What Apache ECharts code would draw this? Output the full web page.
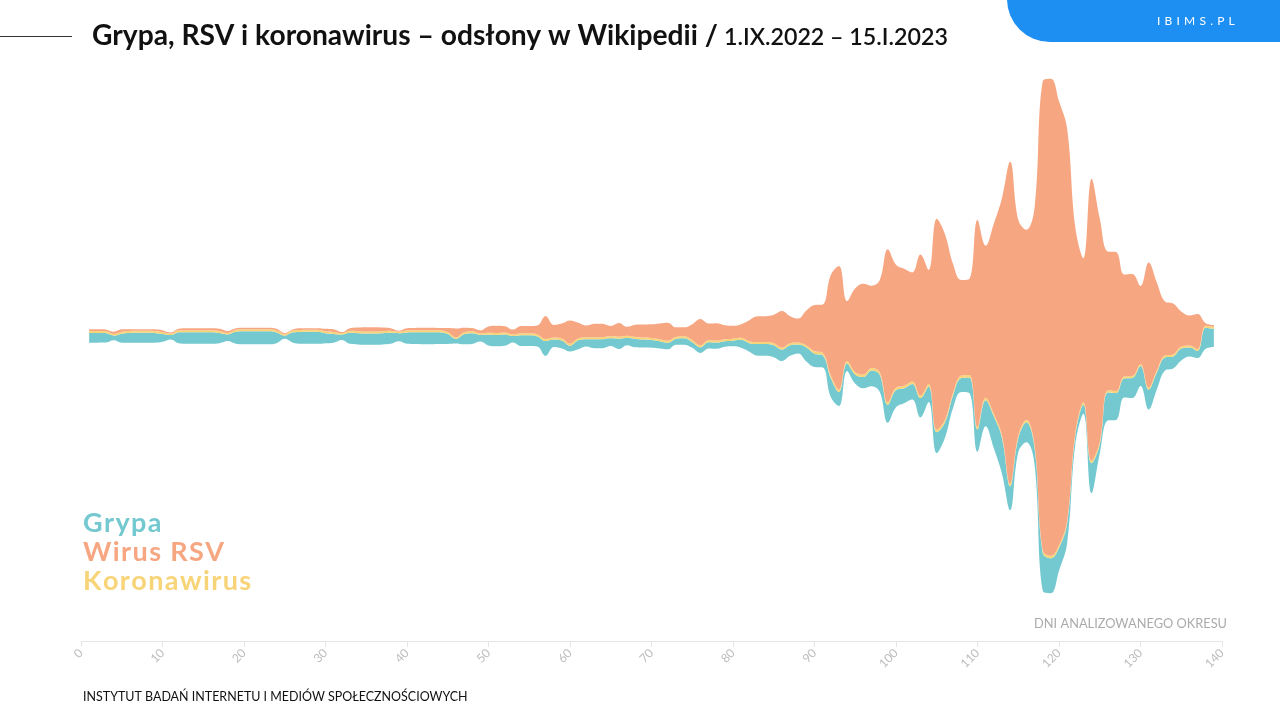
<!DOCTYPE html>
<html>
<head>
<meta charset="utf-8">
<script src="https://cdn.jsdelivr.net/npm/echarts/dist/echarts.min.js"></script>
<style>
  html, body { margin: 0; padding: 0; background: #ffffff; }
  #chart { width: 1280px; height: 720px; }
</style>
</head>
<body>
<div id="chart"></div>
<script>
// ---- Data, days 1..139 ----
const grypa = [
  9.7, 9.7, 9.5, 4.7, 9.0, 9.7, 10.0, 10.0, 9.7, 7.7,
  4.3, 11.0, 11.3, 11.3, 11.7, 11.7, 10.3, 6.7, 12.0, 13.0,
  13.0, 13.0, 13.0, 10.7, 3.2, 10.3, 11.7, 12.0, 12.0, 10.0,
  8.7, 5.3, 11.0, 11.3, 11.3, 11.3, 11.3, 11.0, 8.0, 11.3,
  11.7, 12.0, 12.0, 11.7, 10.0, 4.7, 10.0, 10.7, 6.7, 10.7,
  11.3, 11.3, 6.3, 10.7, 10.7, 10.0, 15.0, 7.5, 8.0, 5.7,
  9.0, 7.3, 9.0, 9.0, 7.7, 10.3, 7.3, 8.3, 8.0, 7.7,
  7.3, 6.7, 5.7, 6.3, 5.7, 5.7, 6.3, 6.3, 5.7, 5.7,
  8.0, 8.7, 11.7, 11.7, 12.0, 11.5, 10.7, 9.0, 14.0, 13.3,
  12.3, 19.0, 14.0, 7.3, 9.0, 11.3, 15.7, 17.0, 18.0, 17.3,
  15.0, 15.6, 19.3, 15.6, 21.0, 15.7, 12.7, 14.0, 15.7, 22.3,
  26, 32, 36, 24, 14, 20, 17, 38, 35, 23,
  20, 9, 9, 30, 9, 28, 27, 19, 20, 20,
  20, 17, 13, 12, 12, 9, 7, 21, 18
];
const koronawirus = [
  2, 2, 2, 1.5, 2, 2, 2, 2, 2, 2,
  1.5, 2, 2, 2, 2, 2, 2, 1.5, 2, 2,
  2, 2, 2, 2, 1.5, 2, 2, 2, 2, 2,
  2, 1.5, 2, 2, 2, 2, 2, 2, 1.5, 2,
  2, 2, 2, 2, 2, 1.5, 2, 2, 1.5, 2,
  2, 2, 1.5, 2, 2, 2, 2, 2, 2, 2,
  2, 2, 2, 2, 2, 2, 2, 2, 2, 2,
  2, 2, 2, 2, 2, 2, 2, 2, 2, 2,
  2, 2, 2, 2, 2, 2, 2, 2, 2, 2.5,
  2.5, 2.5, 2.5, 2.5, 2.5, 2.5, 2.5, 2.5, 2.5, 2.5,
  2.5, 2.5, 2.5, 2.5, 2.5, 2.5, 2.5, 2.5, 2.5, 2.5,
  2.5, 2.5, 2.5, 2.5, 2.5, 2.5, 2.5, 2.5, 2.5, 2.5,
  2.5, 2.5, 2.5, 2.5, 2.5, 2, 2, 2, 2, 2,
  2, 2, 2, 2, 2, 2, 2, 2, 2
];
const wirusRSV = [
  1.7, 1.7, 1.7, 2.3, 2.3, 1.7, 1.7, 1.7, 1.7, 1.7,
  1.0, 1.3, 2.0, 2.0, 2.0, 2.0, 2.3, 2.0, 1.7, 1.7,
  1.7, 1.7, 1.7, 1.7, 1.0, 1.0, 1.7, 1.7, 1.7, 2.5,
  2.7, 1.0, 2.7, 3.7, 4.3, 4.3, 3.7, 2.7, 1.0, 2.3,
  2.3, 2.3, 2.3, 2.3, 4.0, 9.0, 4.7, 3.3, 3.0, 6.3,
  7.3, 6.3, 5.0, 7.3, 7.3, 9.0, 23.0, 12.7, 15.0, 23.3,
  15.7, 11.7, 13.7, 13.3, 10.3, 13.7, 9.0, 12.3, 13.0, 13.7,
  15.7, 18.0, 9.7, 9.0, 16.0, 26.3, 16.7, 17.3, 14.0, 13.0,
  13.7, 21.0, 25.7, 25.7, 28.3, 36.5, 27.0, 24.0, 35.0, 46.3,
  48.3, 100.7, 123.7, 60.0, 84.0, 90.7, 82.3, 92.0, 153.0, 122.7,
  117, 109, 141, 114, 211, 186, 129, 95.7, 96, 207,
  152, 190, 237, 322, 216, 190, 237, 469, 477, 444,
  392, 206, 144, 282, 224, 139, 139, 102, 102, 78,
  125, 88, 54, 51, 35, 30, 35, 2.5, 2
];
const AXIS_MAX_DAY = 140;   // axis runs 0..140, labels every 10 days
const LABEL_STEP = 10;
const seriesNames = ['Grypa', 'Wirus RSV', 'Koronawirus'];
const colors = { grypa: '#74C9D0', rsv: '#F7A682', korona: '#F8D478' };

// ---- Category axis 0..140; data occupy days 1..139 ----
const categories = Array.from({ length: AXIS_MAX_DAY + 1 }, (_, i) => String(i));
const onAxis = arr => categories.map((c, i) => (i >= 1 && i <= arr.length) ? arr[i - 1] : '-');

// ---- Stream layout (silhouette: centred stack) ----
const CENTER = 305;        // value at which the stream is centred
const Y_MAX = 571;         // value range of the hidden y axis
const baseVals = grypa.map((g, i) => CENTER - (g + koronawirus[i] + wirusRSV[i]) / 2);

const SMOOTH = 0.4;
function layer(name, data, color) {
  return {
    name, type: 'line', stack: 'stream', data, smooth: SMOOTH,
    symbol: 'none', silent: true, connectNulls: false,
    lineStyle: { width: 0, color },
    areaStyle: { color, opacity: 1 },
    itemStyle: { color }
  };
}

// ---- Text helpers ----
const mctx = document.createElement('canvas').getContext('2d');
function measure(str, font) { mctx.font = font; return mctx.measureText(str).width; }
function fitFont(str, weight, family, targetWidth) {
  const w = measure(str, weight + ' 100px ' + family);
  return 100 * targetWidth / w;
}
function spaced(str, x, yMid, font, spacing, color, align) {
  const chars = [...str];
  const widths = chars.map(ch => measure(ch, font));
  const total = widths.reduce((a, b) => a + b, 0) + spacing * (chars.length - 1);
  let cx = align === 'right' ? x - total : x;
  return chars.map((ch, i) => {
    const el = {
      type: 'text', x: cx, y: yMid, silent: true,
      style: { text: ch, font, fill: color, textAlign: 'left', align: 'left',
               textVerticalAlign: 'middle', verticalAlign: 'middle' }
    };
    cx += widths[i] + spacing;
    return el;
  });
}
function txt(str, x, yMid, font, color, align) {
  return {
    type: 'text', x, y: yMid, silent: true,
    style: { text: str, font, fill: color, textAlign: align || 'left', align: align || 'left',
             textVerticalAlign: 'middle', verticalAlign: 'middle' }
  };
}

const titleMain = 'Grypa, RSV i koronawirus – odsłony w Wikipedii /';
const titleDate = '1.IX.2022 – 15.I.2023';
const footer = 'INSTYTUT BADAŃ INTERNETU I MEDIÓW SPOŁECZNOŚCIOWYCH';
const axisName = 'DNI ANALIZOWANEGO OKRESU';

const fMain = fitFont(titleMain, 'bold', 'Lato', 626);
const fDate = fitFont(titleDate, '600', 'Lato', 224);
const fFoot = fitFont(footer, 'normal', 'Lato', 385);
const fAxisName = fitFont(axisName, 'normal', 'Lato', 193);

const graphics = [
  { type: 'line', silent: true, shape: { x1: 0, y1: 36.5, x2: 72, y2: 36.5 },
    style: { stroke: '#333333', lineWidth: 1 } },
  txt(titleMain, 92, 36, 'bold ' + fMain.toFixed(2) + 'px Lato', '#111111'),
  txt(titleDate, 724, 37.5, '600 ' + fDate.toFixed(2) + 'px Lato', '#111111'),
  { type: 'rect', silent: true, shape: { x: 1007, y: -1, width: 274, height: 43, r: [0, 0, 0, 43] },
    style: { fill: '#1E8FF2' } },
  ...spaced('IBIMS.PL', 1157, 21.5, '12px Lato', 4.2, '#ffffff'),
  ...spaced(seriesNames[0], 83, 523, 'bold 27px Lato', 1.4, colors.grypa),
  ...spaced(seriesNames[1], 83, 552, 'bold 27px Lato', 1.4, colors.rsv),
  ...spaced(seriesNames[2], 83, 581, 'bold 27px Lato', 1.4, colors.korona),
  txt(axisName, 1227, 624, fAxisName.toFixed(2) + 'px Lato', '#ababab', 'right'),
  txt(footer, 83, 697, fFoot.toFixed(2) + 'px Lato', '#111111')
];

const chart = echarts.init(document.getElementById('chart'), null, { renderer: 'canvas' });
chart.setOption({
  animation: false,
  backgroundColor: '#ffffff',
  grid: { left: 81, right: 58, top: 70, bottom: 79, containLabel: false },
  xAxis: {
    type: 'category', data: categories, boundaryGap: false,
    axisLine: { show: true, lineStyle: { color: '#e6e6e6', width: 1 } },
    axisTick: { show: true, length: 6, interval: LABEL_STEP - 1, lineStyle: { color: '#e6e6e6' } },
    axisLabel: { interval: LABEL_STEP - 1, rotate: 45, color: '#bdbdbd', fontSize: 12,
                 fontFamily: 'Lato', margin: 10 },
    splitLine: { show: false }
  },
  yAxis: { type: 'value', min: 0, max: Y_MAX, show: false, splitLine: { show: false } },
  series: [
    { name: 'base', type: 'line', stack: 'stream', data: onAxis(baseVals), smooth: SMOOTH,
      symbol: 'none', silent: true, lineStyle: { width: 0, opacity: 0 } },
    layer(seriesNames[0], onAxis(grypa), colors.grypa),
    layer(seriesNames[2], onAxis(koronawirus), colors.korona),
    layer(seriesNames[1], onAxis(wirusRSV), colors.rsv)
  ],
  graphic: { elements: graphics }
});
</script>
</body>
</html>
